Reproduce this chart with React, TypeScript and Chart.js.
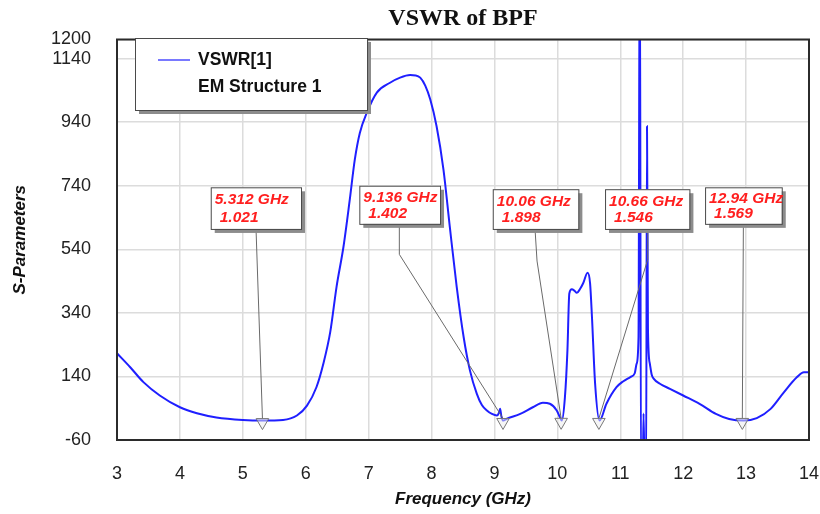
import React, { useEffect, useRef } from "react";
import { Chart, registerables } from "chart.js";

Chart.register(...registerables);

// ---- data ----
const freqGHz = [
  3.0, 3.21, 3.42, 3.68, 4.0, 4.27, 4.58, 5.0, 5.31, 5.64, 5.86, 6.02, 6.17, 6.28, 6.39,
  6.49, 6.6, 6.7, 6.78, 6.86, 6.97, 7.13, 7.34, 7.5, 7.66, 7.75, 7.82, 7.9, 7.98, 8.08,
  8.19, 8.29, 8.4, 8.51, 8.61, 8.72, 8.8, 8.88, 8.96, 9.04, 9.07, 9.09, 9.11, 9.14, 9.19,
  9.41, 9.61, 9.77, 9.88, 9.99, 10.04, 10.07, 10.12, 10.16, 10.19, 10.23, 10.27, 10.31, 10.36,
  10.41, 10.48, 10.52, 10.55, 10.6, 10.67, 10.78, 10.94, 11.05, 11.16, 11.23, 11.26, 11.29,
  11.31, 11.33, 11.355, 11.37, 11.39, 11.41, 11.425, 11.44, 11.47, 11.5, 11.53, 11.63, 11.79,
  12.0, 12.26, 12.52, 12.73, 12.96, 13.17, 13.39, 13.6, 13.81, 13.92, 14.0,
];
const vswrValues = [
  213, 169, 122, 80, 43, 24, 11, 3, 1, 3, 17, 48, 106, 180, 280,
  422, 548, 696, 822, 906, 969, 1033, 1064, 1080, 1088, 1087, 1080, 1055, 1011, 927,
  790, 611, 422, 264, 159, 85, 50, 33, 22, 17, 25, 38, 15, 1, 6,
  22, 43, 57, 54, 33, 12, 1, 74, 222, 401, 414, 410, 403, 415,
  433, 466, 433, 327, 117, 1, 54, 106, 125, 138, 150, 180, 264,
  1600, -200, -200, 23, -200, -200, 927, 290, 180, 145, 133, 117, 101,
  80, 54, 22, 6, 1, 9, 38, 90, 138, 153, 153,
];
const xTickValues = [3, 4, 5, 6, 7, 8, 9, 10, 11, 12, 13, 14];
const yTickValues = [-60, 140, 340, 540, 740, 940, 1140, 1200];

const seriesLabel = "VSWR[1]";
const seriesSource = "EM Structure 1";
const chartTitle = "VSWR of BPF";
const xTitle = "Frequency (GHz)";
const yTitle = "S-Parameters";

const markerFreqs = [5.312, 9.136, 10.06, 10.66, 12.94];
const markerValues = [1.021, 1.402, 1.898, 1.546, 1.569];

// ---- annotation layout (data units) ----
const markerBoxLayout = [
  { left: 4.49, right: 5.925, top: 735, bottom: 604, leadF: 5.21, elbowF: null as number | null, elbowV: null as number | null },
  { left: 6.852, right: 8.135, top: 740, bottom: 620, leadF: 7.488, elbowF: 7.488, elbowV: 524 },
  { left: 8.973, right: 10.334, top: 729, bottom: 604, leadF: 9.645, elbowF: 9.677, elbowV: 503 },
  { left: 10.758, right: 12.099, top: 729, bottom: 604, leadF: 11.437, elbowF: 11.437, elbowV: 508 },
  { left: 12.348, right: 13.567, top: 735, bottom: 620, leadF: 12.957, elbowF: null, elbowV: null },
];

const SANS = "'Liberation Sans', Arial, Helvetica, sans-serif";

const overlayPlugin = {
  id: "overlay",
  afterDatasetsDraw(chart: any) {
    const { ctx, chartArea: a } = chart;
    ctx.save();
    ctx.strokeStyle = "#2b2b2b";
    ctx.lineWidth = 2;
    ctx.strokeRect(a.left, a.top, a.right - a.left, a.bottom - a.top);
    ctx.restore();
  },
  afterDraw(chart: any) {
    const { ctx, chartArea: a } = chart;
    const xs = chart.scales.x;
    const ys = chart.scales.y;
    ctx.save();

    // markers
    markerFreqs.forEach((f, i) => {
      const b = markerBoxLayout[i];
      const px = xs.getPixelForValue(f);
      const py = ys.getPixelForValue(markerValues[i]);
      const l = xs.getPixelForValue(b.left);
      const r = xs.getPixelForValue(b.right);
      const t = ys.getPixelForValue(b.top);
      const bt = ys.getPixelForValue(b.bottom);
      const triTop = py - 2;

      // leader line
      ctx.strokeStyle = "#6a6a6a";
      ctx.lineWidth = 1;
      ctx.beginPath();
      ctx.moveTo(xs.getPixelForValue(b.leadF), bt);
      if (b.elbowF !== null && b.elbowV !== null) {
        ctx.lineTo(xs.getPixelForValue(b.elbowF), ys.getPixelForValue(b.elbowV));
      }
      ctx.lineTo(px, triTop);
      ctx.stroke();

      // triangle
      ctx.beginPath();
      ctx.moveTo(px - 6.3, triTop);
      ctx.lineTo(px + 6.3, triTop);
      ctx.lineTo(px, triTop + 11);
      ctx.closePath();
      ctx.fillStyle = "rgba(235,235,235,0.5)";
      ctx.fill();
      ctx.strokeStyle = "#777";
      ctx.stroke();

      // box shadow + box
      ctx.fillStyle = "#8c8c8c";
      ctx.fillRect(l + 4, t + 4, r - l, bt - t);
      ctx.fillStyle = "#ffffff";
      ctx.fillRect(l, t, r - l, bt - t);
      ctx.strokeStyle = "#4a4a4a";
      ctx.lineWidth = 1;
      ctx.strokeRect(l + 0.5, t + 0.5, r - l, bt - t);

      const h = bt - t;
      ctx.fillStyle = "#ff1f1f";
      ctx.font = `italic bold 15.5px ${SANS}`;
      ctx.textBaseline = "middle";
      ctx.textAlign = "left";
      ctx.fillText(`${f.toPrecision(4)} GHz`, l + 4, t + h * 0.31);
      ctx.fillText(markerValues[i].toFixed(3), l + 9, t + h * 0.73);
    });

    // legend box
    const lx = a.left + 18;
    const ly = a.top - 1.5;
    const lw = 232;
    const lh = 72;
    ctx.fillStyle = "#8c8c8c";
    ctx.fillRect(lx + 4, ly + 4, lw, lh);
    ctx.fillStyle = "#ffffff";
    ctx.fillRect(lx, ly, lw, lh);
    ctx.strokeStyle = "#4a4a4a";
    ctx.lineWidth = 1;
    ctx.strokeRect(lx + 0.5, ly + 0.5, lw, lh);
    const ds = chart.data.datasets[0];
    ctx.strokeStyle = ds.borderColor;
    ctx.lineWidth = 1.2;
    ctx.beginPath();
    ctx.moveTo(lx + 23, ly + 22);
    ctx.lineTo(lx + 55, ly + 22);
    ctx.stroke();
    ctx.fillStyle = "#111";
    ctx.font = `bold 17.5px ${SANS}`;
    ctx.textBaseline = "middle";
    ctx.textAlign = "left";
    ctx.fillText(ds.label, lx + 63, ly + 22);
    ctx.fillText(seriesSource, lx + 63, ly + 49);

    ctx.restore();
  },
};

export default function App() {
  const canvasRef = useRef<HTMLCanvasElement | null>(null);

  useEffect(() => {
    if (!canvasRef.current) return;
    const points = freqGHz.map((f, i) => ({ x: f, y: vswrValues[i] }));
    const chart = new Chart(canvasRef.current, {
      type: "line",
      data: {
        datasets: [
          {
            label: seriesLabel,
            data: points,
            borderColor: "#1f1fff",
            borderWidth: 2,
            pointRadius: 0,
            fill: false,
            cubicInterpolationMode: "monotone",
          },
        ],
      },
      options: {
        responsive: false,
        animation: false,
        devicePixelRatio: 1,
        events: [],
        layout: { padding: { left: 0, right: 11, top: 0, bottom: 0 } },
        plugins: {
          legend: { display: false },
          tooltip: { enabled: false },
          title: {
            display: true,
            text: chartTitle,
            fullSize: false,
            color: "#111",
            font: { family: "'Liberation Serif', 'Times New Roman', serif", size: 24, weight: "bold", lineHeight: 1.2 },
            padding: { top: 4, bottom: 6.7 },
          },
        },
        scales: {
          x: {
            type: "linear",
            min: 3,
            max: 14,
            afterBuildTicks: (scale: any) => {
              scale.ticks = xTickValues.map((v) => ({ value: v }));
            },
            afterFit: (scale: any) => {
              scale.height = 74;
              scale.paddingLeft = 0;
              scale.paddingRight = 0;
            },
            grid: { color: "#dcdcdc", lineWidth: 1.5, drawTicks: false },
            border: { display: false },
            ticks: {
              autoSkip: false,
              maxRotation: 0,
              padding: 23,
              color: "#222",
              font: { family: SANS, size: 18 },
              callback: (v: any) => String(v),
            },
            title: {
              display: true,
              text: xTitle,
              color: "#111",
              font: { family: SANS, size: 17, weight: "bold", style: "italic", lineHeight: 1.2 },
              padding: { top: 0, bottom: 4 },
            },
          },
          y: {
            type: "linear",
            min: -60,
            max: 1200,
            afterBuildTicks: (scale: any) => {
              scale.ticks = yTickValues.map((v) => ({ value: v }));
            },
            afterFit: (scale: any) => {
              scale.width = 117;
              scale.paddingTop = 0;
              scale.paddingBottom = 0;
            },
            grid: { color: "#dcdcdc", lineWidth: 1.5, drawTicks: false },
            border: { display: false },
            ticks: {
              autoSkip: false,
              padding: 26,
              color: "#222",
              font: { family: SANS, size: 18 },
              callback: (v: any) => String(v),
            },
            title: {
              display: true,
              text: yTitle,
              color: "#111",
              font: { family: SANS, size: 17, weight: "bold", style: "italic", lineHeight: 1.2 },
              padding: { top: 10.5, bottom: 0 },
            },
          },
        },
      },
      plugins: [overlayPlugin],
    } as any);
    return () => chart.destroy();
  }, []);

  return (
    <div style={{ position: "fixed", left: 0, top: 0, width: 820, height: 514, background: "#fff" }}>
      <canvas ref={canvasRef} width={820} height={514} style={{ display: "block" }} />
    </div>
  );
}
